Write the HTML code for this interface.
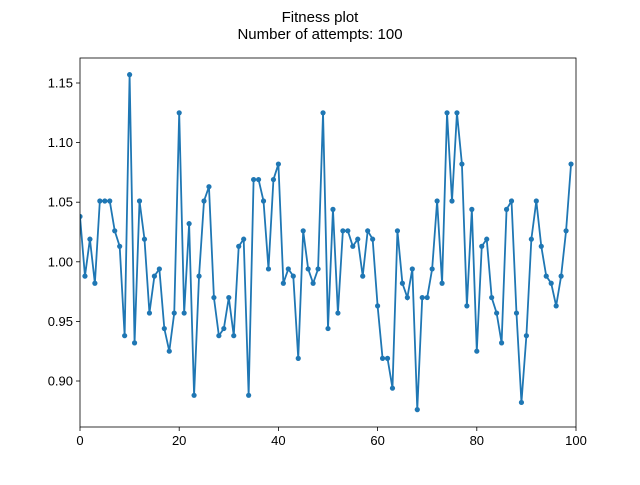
<!DOCTYPE html>
<html><head><meta charset="utf-8"><style>
body{margin:0;background:#fff;font-family:"Liberation Sans","DejaVu Sans",sans-serif}
</style></head><body>
<svg id="chart" width="640" height="480" xmlns="http://www.w3.org/2000/svg">
<rect width="640" height="480" fill="#fff"/>
<text x="320" y="22" text-anchor="middle" font-size="15">Fitness plot</text>
<text x="320" y="39" text-anchor="middle" font-size="15">Number of attempts: 100</text>
<g id="plot"></g>
</svg>
<script>
const values=[1.038,0.988,1.019,0.982,1.051,1.051,1.051,1.026,1.013,0.938,
1.157,0.932,1.051,1.019,0.957,0.988,0.994,0.944,0.925,0.957,
1.125,0.957,1.032,0.888,0.988,1.051,1.063,0.970,0.938,0.944,
0.970,0.938,1.013,1.019,0.888,1.069,1.069,1.051,0.994,1.069,
1.082,0.982,0.994,0.988,0.919,1.026,0.994,0.982,0.994,1.125,
0.944,1.044,0.957,1.026,1.026,1.013,1.019,0.988,1.026,1.019,
0.963,0.919,0.919,0.894,1.026,0.982,0.970,0.994,0.876,0.970,
0.970,0.994,1.051,0.982,1.125,1.051,1.125,1.082,0.963,1.044,
0.925,1.013,1.019,0.970,0.957,0.932,1.044,1.051,0.957,0.882,
0.938,1.019,1.051,1.013,0.988,0.982,0.963,0.988,1.026,1.082];
const xTicks=[0,20,40,60,80,100];
const yTicks=[0.90,0.95,1.00,1.05,1.10,1.15];
const L=80,R=576,T=58,B=427;
const X=v=>L+(v-0)/100*(R-L);
const Y=v=>381-(v-0.90)/0.05*59.6;
const NS="http://www.w3.org/2000/svg";
const g=document.getElementById('plot');
function mk(t,a){const e=document.createElementNS(NS,t);for(const k in a)e.setAttribute(k,a[k]);g.appendChild(e);return e;}
xTicks.forEach(t=>{
 const l=mk('line',{x1:X(t),x2:X(t),y1:B,y2:B+4,stroke:'#000','stroke-width':0.8});
 
 
 const s=mk('text',{x:X(t),y:B+18,'text-anchor':'middle','font-size':13});
 s.textContent=t;
 
 
});
yTicks.forEach(t=>{
 const l=mk('line',{x1:L-4,x2:L,y1:Y(t),y2:Y(t),stroke:'#000','stroke-width':0.8});
 
 
 const s=mk('text',{x:L-7,y:Y(t)+4.5,'text-anchor':'end','font-size':13});
 s.textContent=t.toFixed(2);
 
 
});
const pts=values.map((v,i)=>X(i)+','+Y(v)).join(' ');
const cl=mk('clipPath',{id:'cp'});
const cr=document.createElementNS(NS,'rect');cr.setAttribute('x',L);cr.setAttribute('y',T);cr.setAttribute('width',R-L);cr.setAttribute('height',B-T);cl.appendChild(cr);
const line=mk('polyline',{points:pts,fill:'none',stroke:'#1f77b4','stroke-width':1.8,'clip-path':'url(#cp)'});


values.forEach((v,i)=>{
 const c=mk('circle',{cx:X(i),cy:Y(v),r:2.6,fill:'#1f77b4','clip-path':'url(#cp)'});
 
 
});
const fr=mk('rect',{x:L,y:T,width:R-L,height:B-T,fill:'none',stroke:'#000','stroke-width':0.8});


</script>
</body></html>
